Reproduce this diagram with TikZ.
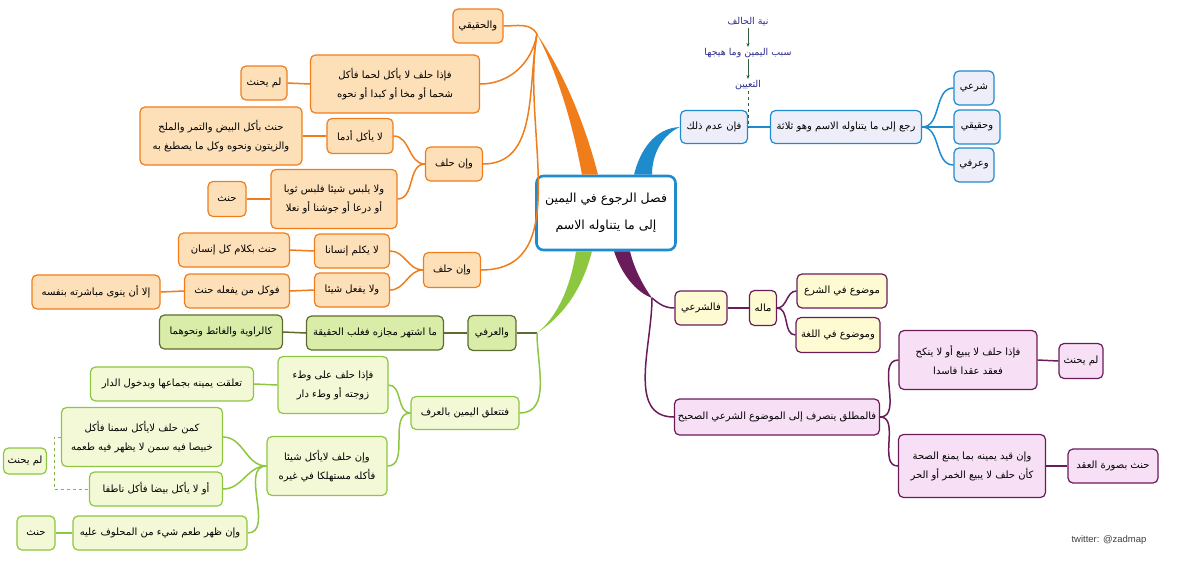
\documentclass[tikz,border=0pt]{standalone}
\usepackage{fontspec}
\usetikzlibrary{arrows.meta}
\newfontfamily\arabicfont[Script=Arabic]{DejaVu Sans}
\newfontfamily\twfont{Liberation Sans}
\TeXXeTstate=1
\newcommand\ar[1]{\beginR#1\endR}

\definecolor{orline}{HTML}{F07D1A}
\definecolor{orfill}{HTML}{FDDFB8}
\definecolor{blline}{HTML}{1E8BCD}
\definecolor{blfill}{HTML}{EEEEFA}
\definecolor{grline}{HTML}{8DC63F}
\definecolor{grfill}{HTML}{F3F9D6}
\definecolor{olline}{HTML}{5C6B2E}
\definecolor{olfill}{HTML}{D9EDA8}
\definecolor{puline}{HTML}{6A1B5A}
\definecolor{yefill}{HTML}{FEFBD2}
\definecolor{pifill}{HTML}{F7DFF5}
\definecolor{bltext}{HTML}{2B2B8C}
\definecolor{arrgreen}{HTML}{2F5F3F}

\tikzset{
  dims/.style 2 args={minimum width=#1, minimum height=#2},
  box/.style={rounded corners=5pt, line width=1.2pt, align=center, inner sep=2pt,
    font=\arabicfont\fontsize{10}{19}\selectfont},
  orangebox/.style={box, draw=orline, fill=orfill},
  bluebox/.style={box, draw=blline, fill=blfill},
  greenbox/.style={box, draw=grline, fill=grfill},
  olivebox/.style={box, draw=olline, fill=olfill},
  yellowbox/.style={box, draw=puline, fill=yefill},
  pinkbox/.style={box, draw=puline, fill=pifill},
  rootbox/.style={box, draw=blline, fill=white, line width=2.6pt, rounded corners=7pt,
    font=\arabicfont\fontsize{12.5}{27}\selectfont},
  bluetext/.style={text=bltext, inner sep=1pt, font=\arabicfont\fontsize{9.5}{11}\selectfont},
  orconn/.style={draw=orline, line width=1.5pt},
  blconn/.style={draw=blline, line width=1.5pt},
  grconn/.style={draw=grline, line width=1.5pt},
  olconn/.style={draw=olline, line width=1.5pt},
  puconn/.style={draw=puline, line width=1.5pt}
}

\begin{document}
\begin{tikzpicture}[x=1pt,y=-1pt]
\useasboundingbox (0,0) rectangle (1200,563);

% centre
\node[rootbox, dims={139pt}{74pt}] (root) at (606,213) {\ar{فصل الرجوع في اليمين}\\\ar{إلى ما يتناوله الاسم}};

\coordinate (oj) at (537,34);
\coordinate (gj) at (537,333);
\coordinate (pj) at (652,298);

% orange side
\node[orangebox, dims={50pt}{34pt}] (haqiqi) at (478,26) {\ar{والحقيقي}};
\node[orangebox, dims={169pt}{58pt}] (lahm) at (395,84) {\ar{فإذا حلف لا يأكل لحما فأكل}\\\ar{شحما أو مخا أو كبدا أو نحوه}};
\node[orangebox, dims={46pt}{34pt}] (lamyahnathA) at (264,83) {\ar{لم يحنث}};
\node[orangebox, dims={57pt}{34pt}] (inhalafA) at (454,164) {\ar{وإن حلف}};
\node[orangebox, dims={66pt}{35pt}] (udm) at (360,136) {\ar{لا يأكل أدما}};
\node[orangebox, dims={162pt}{58pt}] (baydh) at (221,136) {\ar{حنث بأكل البيض والتمر والملح}\\\ar{والزيتون ونحوه وكل ما يصطبغ به}};
\node[orangebox, dims={126pt}{59pt}] (yalbas) at (334,199) {\ar{ولا يلبس شيئا فلبس ثوبا}\\\ar{أو درعا أو جوشنا أو نعلا}};
\node[orangebox, dims={38pt}{35pt}] (hanithA) at (227,199) {\ar{حنث}};
\node[orangebox, dims={57pt}{35pt}] (inhalafB) at (452,270) {\ar{وإن حلف}};
\node[orangebox, dims={75pt}{34pt}] (yukallim) at (352,251) {\ar{لا يكلم إنسانا}};
\node[orangebox, dims={75pt}{34pt}] (yafal) at (352,290) {\ar{ولا يفعل شيئا}};
\node[orangebox, dims={111pt}{34pt}] (kalam) at (234,250) {\ar{حنث بكلام كل إنسان}};
\node[orangebox, dims={105pt}{34pt}] (wakkala) at (237,291) {\ar{فوكل من يفعله حنث}};
\node[orangebox, dims={128pt}{34pt}] (illa) at (96,292) {\ar{إلا أن ينوى مباشرته بنفسه}};

\fill[orline] ([xshift=-24pt]root.north) .. controls (572,120) and (556,70) .. (oj)
  .. controls (562,70) and (584,120) .. ([xshift=-8pt]root.north) -- cycle;
\draw[orconn] (haqiqi.east) to[out=0,in=120] (oj);
\draw[orconn] (oj) to[out=-100,in=0] (lahm.east);
\draw[orconn] (oj) to[out=-100,in=0] (inhalafA.east);
\draw[orconn] (oj) to[out=-100,in=0] (inhalafB.east);
\draw[orconn] (lahm.west) -- (lamyahnathA.east);
\draw[orconn] (inhalafA.west) to[out=180,in=0] (udm.east);
\draw[orconn] (inhalafA.west) to[out=180,in=0] (yalbas.east);
\draw[orconn] (udm.west) -- (baydh.east);
\draw[orconn] (yalbas.west) -- (hanithA.east);
\draw[orconn] (inhalafB.west) to[out=180,in=0] (yukallim.east);
\draw[orconn] (inhalafB.west) to[out=180,in=0] (yafal.east);
\draw[orconn] (yukallim.west) -- (kalam.east);
\draw[orconn] (yafal.west) -- (wakkala.east);
\draw[orconn] (wakkala.west) -- (illa.east);

% green side
\node[olivebox, dims={48pt}{35pt}] (urfi) at (492,333) {\ar{والعرفي}};
\node[olivebox, dims={137pt}{34pt}] (ishtahar) at (375,333) {\ar{ما اشتهر مجازه فغلب الحقيقة}};
\node[olivebox, dims={123pt}{34pt}] (rawiya) at (221,332) {\ar{كالراوية والغائط ونحوهما}};
\node[greenbox, dims={108pt}{33pt}] (tataallaq) at (465,413) {\ar{فتتعلق اليمين بالعرف}};
\node[greenbox, dims={110pt}{57pt}] (wat) at (333,385) {\ar{فإذا حلف على وطء}\\\ar{زوجته أو وطء دار}};
\node[greenbox, dims={163pt}{34pt}] (taallaqat) at (172,384) {\ar{تعلقت يمينه بجماعها وبدخول الدار}};
\node[greenbox, dims={120pt}{59pt}] (shayan) at (327,466) {\ar{وإن حلف لايأكل شيئا}\\\ar{فأكله مستهلكا في غيره}};
\node[greenbox, dims={161pt}{59pt}] (samn) at (142,437) {\ar{كمن حلف لايأكل سمنا فأكل}\\\ar{خبيصا فيه سمن لا يظهر فيه طعمه}};
\node[greenbox, dims={133pt}{34pt}] (baydan) at (156,489) {\ar{أو لا يأكل بيضا فأكل ناطفا}};
\node[greenbox, dims={43pt}{26pt}] (lamyahnathB) at (25,461) {\ar{لم يحنث}};
\node[greenbox, dims={174pt}{34pt}] (zahara) at (160,533) {\ar{وإن ظهر طعم شيء من المحلوف عليه}};
\node[greenbox, dims={38pt}{34pt}] (hanithB) at (36,533) {\ar{حنث}};

\fill[grline] ([xshift=-30pt]root.south) .. controls (570,290) and (556,318) .. (gj)
  .. controls (563,316) and (582,290) .. ([xshift=-14pt]root.south) -- cycle;
\draw[olconn] (urfi.east) -- (gj);
\draw[olconn] (urfi.west) -- (ishtahar.east);
\draw[olconn] (ishtahar.west) -- (rawiya.east);
\draw[grconn] (gj) to[out=-90,in=0] (tataallaq.east);
\draw[grconn] (tataallaq.west) to[out=180,in=0] (wat.east);
\draw[grconn] (tataallaq.west) to[out=180,in=0] (shayan.east);
\draw[grconn] (wat.west) -- (taallaqat.east);
\draw[grconn] (shayan.west) to[out=180,in=0] (samn.east);
\draw[grconn] (shayan.west) to[out=180,in=0] (baydan.east);
\draw[grconn] (shayan.west) to[out=180,in=0] (zahara.east);
\draw[grconn] (zahara.west) -- (hanithB.east);
\draw[grline!70!gray, line width=0.8pt, dashed] (samn.west) -- ++(-7,0) |- (baydan.west);

% blue side
\node[bluebox, dims={67pt}{33pt}] (adim) at (714,127) {\ar{فإن عدم ذلك}};
\node[bluebox, dims={151pt}{33pt}] (rajaa) at (846,127) {\ar{رجع إلى ما يتناوله الاسم وهو ثلاثة}};
\node[bluebox, dims={40pt}{34pt}] (sharii) at (974,88) {\ar{شرعي}};
\node[bluebox, dims={46pt}{34pt}] (haqiqiB) at (977,127) {\ar{وحقيقي}};
\node[bluebox, dims={40pt}{34pt}] (urfiB) at (974,165) {\ar{وعرفي}};
\node[bluetext] (niyya) at (748,22) {\ar{نية الحالف}};
\node[bluetext] (sabab) at (748,53) {\ar{سبب اليمين وما هيجها}};
\node[bluetext] (taayin) at (748,85) {\ar{التعيين}};

\fill[blline] ([xshift=28pt]root.north) .. controls (640,150) and (655,128) .. (adim.west)
  .. controls (664,134) and (652,152) .. ([xshift=46pt]root.north) -- cycle;
\draw[blconn] (adim.east) -- (rajaa.west);
\draw[blconn] (rajaa.east) to[out=0,in=180] (sharii.west);
\draw[blconn] (rajaa.east) -- (haqiqiB.west);
\draw[blconn] (rajaa.east) to[out=0,in=180] (urfiB.west);
\draw[arrgreen, -{Stealth[length=4pt,width=3pt]}] (niyya) -- (sabab);
\draw[arrgreen, -{Stealth[length=4pt,width=3pt]}] (sabab) -- (taayin);
\draw[arrgreen, dashed, line width=0.6pt] (taayin.south) -- (taayin.south |- adim.east);

% purple side
\node[yellowbox, dims={52pt}{34pt}] (shari) at (701,308) {\ar{فالشرعي}};
\node[yellowbox, dims={27pt}{35pt}] (maluh) at (763,308) {\ar{ماله}};
\node[yellowbox, dims={90pt}{34pt}] (mawduA) at (842,291) {\ar{موضوع في الشرع}};
\node[yellowbox, dims={84pt}{35pt}] (mawduB) at (838,335) {\ar{وموضوع في اللغة}};
\node[pinkbox, dims={205pt}{36pt}] (mutlaq) at (777,417) {\ar{فالمطلق ينصرف إلى الموضوع الشرعي الصحيح}};
\node[pinkbox, dims={138pt}{59pt}] (fasid) at (968,360) {\ar{فإذا حلف لا يبيع أو لا ينكح}\\\ar{فعقد عقدا فاسدا}};
\node[pinkbox, dims={44pt}{35pt}] (lamyahnathC) at (1081,361) {\ar{لم يحنث}};
\node[pinkbox, dims={147pt}{63pt}] (khamr) at (972,466) {\ar{وإن قيد يمينه بما يمنع الصحة}\\\ar{كأن حلف لا يبيع الخمر أو الحر}};
\node[pinkbox, dims={90pt}{34pt}] (surat) at (1113,466) {\ar{حنث بصورة العقد}};

\fill[puline] ([xshift=8pt]root.south) .. controls (622,275) and (636,292) .. (pj)
  .. controls (642,284) and (634,268) .. ([xshift=24pt]root.south) -- cycle;
\draw[puconn] (pj) to[out=-40,in=180] (shari.west);
\draw[puconn] (pj) to[out=-90,in=180] (mutlaq.west);
\draw[puconn] (shari.east) -- (maluh.west);
\draw[puconn] (maluh.east) to[out=0,in=180] (mawduA.west);
\draw[puconn] (maluh.east) to[out=0,in=180] (mawduB.west);
\draw[puconn] (mutlaq.east) to[out=0,in=180] (fasid.west);
\draw[puconn] (mutlaq.east) to[out=0,in=180] (khamr.west);
\draw[puconn] (fasid.east) -- (lamyahnathC.west);
\draw[puconn] (khamr.east) -- (surat.west);

\node[font=\twfont\fontsize{9.5}{11}\selectfont, text=black!75] (tw) at (1109,540) {twitter: @zadmap};

\end{tikzpicture}
\end{document}
